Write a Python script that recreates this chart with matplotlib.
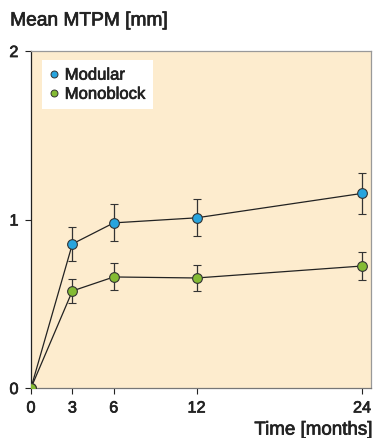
import numpy as np
import matplotlib.pyplot as plt
import matplotlib.patheffects as pe

# Data
months = [0, 3, 6, 12, 24]
modular_mean = [0.0, 0.855, 0.98, 1.01, 1.155]
modular_err = [0.0, 0.10, 0.11, 0.11, 0.12]
monoblock_mean = [0.0, 0.576, 0.659, 0.653, 0.724]
monoblock_err = [0.0, 0.07, 0.08, 0.077, 0.085]

plt.rcParams['font.family'] = ['Liberation Sans', 'DejaVu Sans']
# slight stroke to get a "medium" weight like the original
thick = [pe.withStroke(linewidth=0.5, foreground='#222222')]

fig = plt.figure(figsize=(3.76, 4.39), dpi=100)
ax = fig.add_axes([0.0824, 0.1139, 0.9046, 0.7676])
ax.set_facecolor('#fdecce')

ax.errorbar(months, modular_mean, yerr=modular_err, color='#222222', lw=0.9,
            ecolor='#333333', elinewidth=0.9, capsize=3, capthick=0.9,
            marker='o', ms=7, mfc='#27a4de', mec='#333333', mew=0.8,
            label='Modular', zorder=3)
ax.errorbar(months, monoblock_mean, yerr=monoblock_err, color='#222222', lw=0.9,
            ecolor='#333333', elinewidth=0.9, capsize=3, capthick=0.9,
            marker='o', ms=7, mfc='#84bb34', mec='#333333', mew=0.8,
            label='Monoblock', zorder=3)

ax.set_xlim(0, 24.65)
ax.set_ylim(0, 2)
ax.set_xticks(months)
ax.set_yticks([0, 1, 2])
ax.tick_params(labelsize=11.7, length=4, width=0.8, colors='#222222', pad=5)
for lab in ax.get_xticklabels() + ax.get_yticklabels():
    lab.set_path_effects(thick)

ax.spines['left'].set_color('#222222')
ax.spines['bottom'].set_color('#777777')
ax.spines['top'].set_color('#999999')
ax.spines['right'].set_color('#999999')
for s in ax.spines.values():
    s.set_linewidth(0.9)

# Legend: markers only
handles = [plt.Line2D([], [], ls='none', marker='o', ms=5, mfc=c, mec='#333333', mew=0.7)
           for c in ['#27a4de', '#84bb34']]
leg = ax.legend(handles, ['Modular', 'Monoblock'], loc='upper left',
                bbox_to_anchor=(0.033, 0.973), frameon=True, fancybox=False,
                handlelength=0.5, handletextpad=0.4, labelspacing=0.25,
                borderpad=0.45, borderaxespad=0, prop={'size': 12})
leg.get_frame().set_facecolor('white')
leg.get_frame().set_edgecolor('none')
leg.get_frame().set_alpha(1)
for t in leg.get_texts():
    t.set_color('#222222')
    t.set_path_effects(thick)

fig.text(0.027, 0.95, 'Mean MTPM [mm]', fontsize=13.8, color='#222222',
         va='center', ha='left', path_effects=thick)
fig.text(0.99, 0.018, 'Time [months]', fontsize=13.5, color='#222222',
         va='center', ha='right', path_effects=thick)

plt.savefig('out.png', dpi=100, facecolor='white')
